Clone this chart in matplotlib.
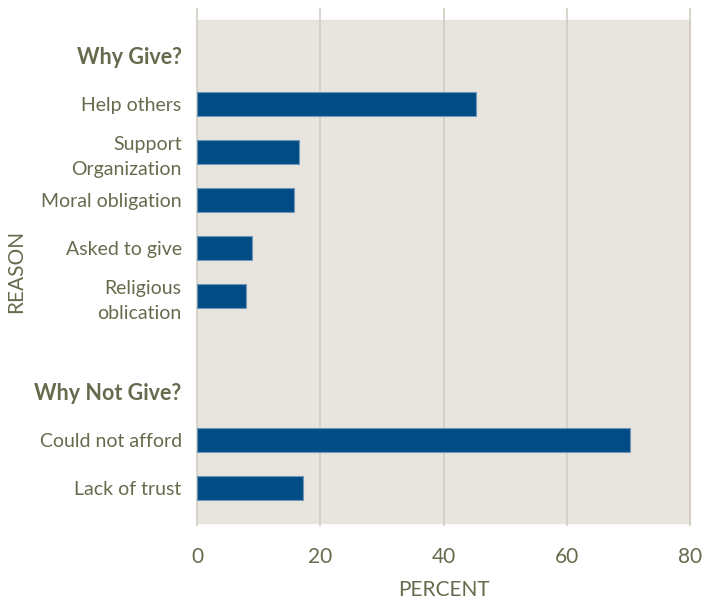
import matplotlib.pyplot as plt
from matplotlib.patches import Rectangle
from matplotlib.transforms import blended_transform_factory

# data
give_reasons = ['Help others', 'Support\nOrganization', 'Moral obligation',
                'Asked to give', 'Religious\noblication']
give_values = [45.3, 16.6, 15.7, 8.9, 7.9]
notgive_reasons = ['Could not afford', 'Lack of trust']
notgive_values = [70.3, 17.2]
headings = ['Why Give?', 'Why Not Give?']
xticks = [0, 20, 40, 60, 80]

text_col = '#676b4d'
bar_col = '#024c85'
bg_col = '#e8e5df'
grid_col = '#d2cec5'

plt.rcParams['font.family'] = ['Lato', 'DejaVu Sans']

fig = plt.figure(figsize=(7.14, 6.01), dpi=100)
ax = fig.add_axes([197 / 714, 1 - 523 / 601, 493 / 714, 503 / 601])

# slot layout: heading, bars, blank gap, heading, bars
give_pos = list(range(1, 1 + len(give_reasons)))
notgive_start = give_pos[-1] + 3
notgive_pos = list(range(notgive_start, notgive_start + len(notgive_reasons)))
head_pos = [0, notgive_start - 1]

ax.barh(give_pos, give_values, height=0.49, color=bar_col,
        edgecolor='#6f97b8', linewidth=0.8, zorder=3)
ax.barh(notgive_pos, notgive_values, height=0.49, color=bar_col,
        edgecolor='#6f97b8', linewidth=0.8, zorder=3)

ax.set_xlim(0, 80)
ax.set_ylim(notgive_pos[-1] + 0.73, -0.75)

ax.set_facecolor('none')
ax.add_patch(Rectangle((0, 0), 1, 1, transform=ax.transAxes, color=bg_col,
                       zorder=0, clip_on=False))
trans = blended_transform_factory(ax.transData, ax.transAxes)
ax.vlines(xticks, -0.005, 1.024, transform=trans, color=grid_col,
          linewidth=1.2, zorder=1, clip_on=False)

for s in ax.spines.values():
    s.set_visible(False)

ax.set_xticks(xticks)
ax.tick_params(axis='x', length=0, pad=17, labelsize=15, labelcolor=text_col)

yt = give_pos + notgive_pos + head_pos
yl = give_reasons + notgive_reasons + headings
ax.set_yticks(yt)
ax.set_yticklabels(yl, linespacing=1.55)
ax.tick_params(axis='y', length=0, pad=11, labelsize=14, labelcolor=text_col)
for lab in ax.get_yticklabels():
    if lab.get_text() in headings:
        lab.set_fontweight('bold')
        lab.set_fontsize(15.5)

ax.set_xlabel('PERCENT', fontsize=15, color=text_col, va='center')
ax.xaxis.set_label_coords(0.5, -(590 - 523) / 503)
ax.set_ylabel('REASON', fontsize=15, color=text_col, va='center')
ax.yaxis.set_label_coords(-(197 - 16) / 493, 0.5)

fig.savefig('out.png', dpi=100)
